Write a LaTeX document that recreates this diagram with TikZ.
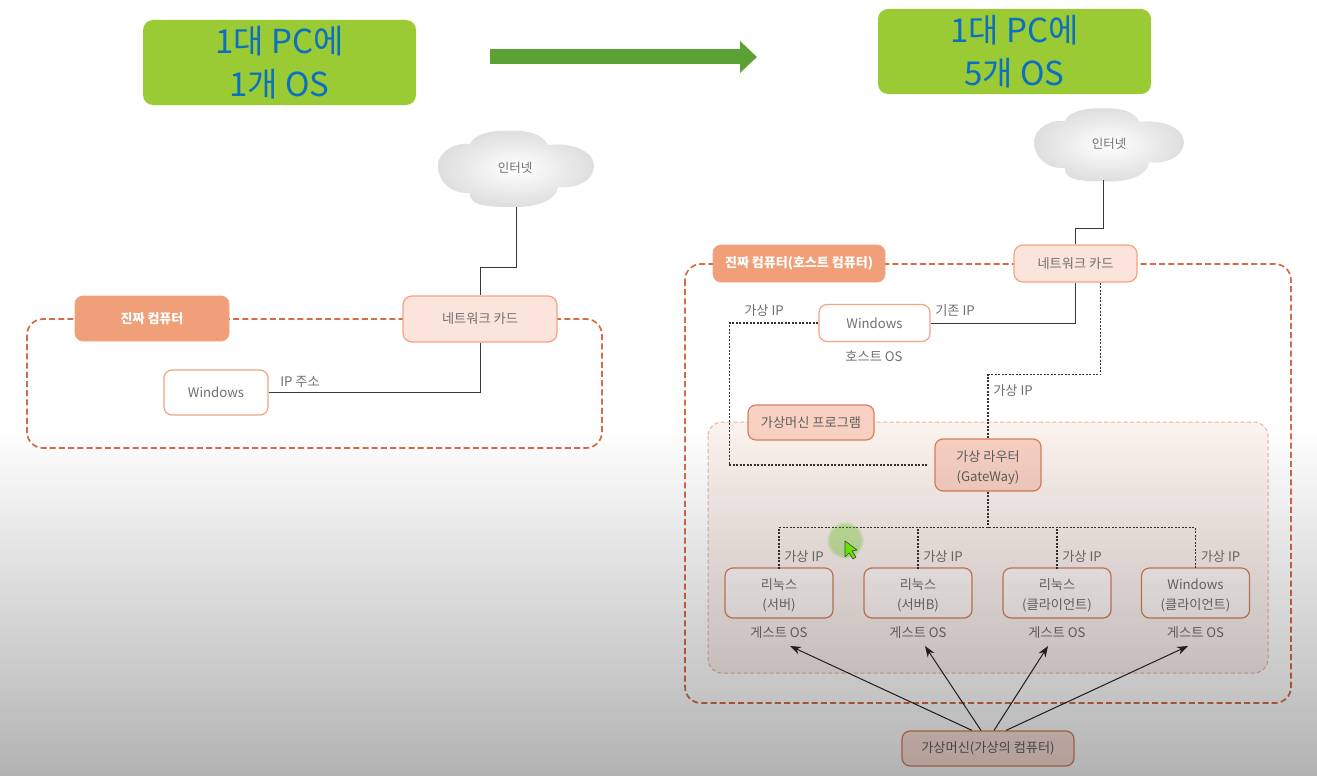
\documentclass[tikz,border=0pt]{standalone}
\usepackage{fontspec}
\setmainfont{Noto Sans CJK KR}
\usetikzlibrary{arrows.meta,fadings,calc}
\definecolor{lbl}{HTML}{707070}
\definecolor{titleblue}{HTML}{0B6FC2}
\definecolor{titlegreen}{HTML}{9ACB34}
\definecolor{arrowgreen}{HTML}{5CA135}
\definecolor{frameline}{HTML}{D56C47}
\definecolor{boxline}{HTML}{D9805F}
\definecolor{softline}{HTML}{F2A487}
\definecolor{realfill}{HTML}{F19F78}
\newcommand{\upstrut}{\rule{0pt}{16pt}}
\tikzset{
  every node/.style={font=\fontsize{13.2}{20}\selectfont, text=lbl, inner sep=0pt, align=center},
  titlebox/.style={fill=titlegreen, rounded corners=10pt, minimum width=273pt, minimum height=85pt, text=titleblue, font=\fontsize{33}{43}\selectfont},
  hostframe/.style={draw=frameline, line width=1.7pt, dash pattern=on 6pt off 3.2pt, rounded corners=16pt},
  vmarea/.style={draw=boxline!60, fill=boxline!11, line width=1pt, dash pattern=on 4pt off 2.5pt, rounded corners=14pt},
  realbox/.style={fill=realfill, draw=softline, rounded corners=8pt, line width=.8pt, text=white, font=\fontsize{13}{20}\selectfont\bfseries},
  nicbox/.style={fill=softline!30, draw=softline, rounded corners=9pt, line width=1.2pt},
  winbox/.style={fill=white, draw=softline, rounded corners=8pt, line width=1.2pt},
  progbox/.style={fill=softline!50, draw=boxline, rounded corners=8pt, line width=1.2pt, text=lbl!85!black},
  guestbox/.style={fill=softline!7, draw=boxline, rounded corners=8pt, line width=1.2pt, minimum width=108pt, minimum height=50pt},
  solidwire/.style={draw=black!78, line width=.9pt},
  dotwire/.style={draw=black!80, line width=1.2pt, dash pattern=on 2pt off 1.5pt},
  vmarrow/.style={draw=black!85, line width=1pt, -{Stealth[length=11pt,width=8pt]}},
  cloudfill/.style={inner color=white, outer color=black!13},
}
\newcommand{\cloudshape}[3]{%
  \path[cloudfill, shift={(#1,#2)}, scale=#3]
    (-78,-3) .. controls (-78,-18) and (-60,-27) .. (-46,-25)
    .. controls (-42,-36) and (-20,-39) .. (-8,-38)
    .. controls (10,-39) and (26,-36) .. (32,-24)
    .. controls (55,-27) and (78,-18) .. (78,-3)
    .. controls (78,12) and (60,20) .. (42,18)
    .. controls (40,32) and (20,38) .. (0,38)
    .. controls (-22,38) and (-48,38) .. (-46,24)
    .. controls (-68,25) and (-78,10) .. (-78,-3) -- cycle;}
\begin{document}
\begin{tikzpicture}[x=1pt,y=-1pt]
\useasboundingbox (0,0) rectangle (1317,776);
\fill[white] (0,0) rectangle (1317,776);

% titles and arrow
\node[titlebox] (t1) at (279.5,62.5) {1대 PC에\\1개 OS};
\node[titlebox] (t2) at (1014.5,51.5) {1대 PC에\\5개 OS};
\coordinate (arrowa) at (490,57);
\coordinate (arrowb) at (757,57);
\draw[arrowgreen, line width=15pt, -{Triangle[length=17pt,width=31pt]}] (arrowa) -- (arrowb);

% left side
\cloudshape{516}{169}{1}
\node (inet1) at (515,168) {\fontsize{12.5}{14}\selectfont 인터넷};
\coordinate (c1b) at (516,207);
\draw[hostframe] (27,319) rectangle (602,448);
\node[realbox, minimum width=154pt, minimum height=45pt] (real1) at (152,318.5) {진짜 컴퓨터};
\node[nicbox, minimum width=154pt, minimum height=46pt] (nic1) at (480,319) {네트워크 카드};
\node[winbox, minimum width=104pt, minimum height=45pt] (win1) at (216,392.5) {Windows};
\node (ip1) at (300,382) {IP 주소};
\draw[solidwire] (c1b) -- ++(0,60) -| (nic1.north);
\draw[solidwire] (win1.east) -| (nic1.south);

% right side
\cloudshape{1109}{145}{.96}
\node (inet2) at (1109,144) {\fontsize{12.5}{14}\selectfont 인터넷};
\coordinate (c2b) at (1103,180);
\draw[hostframe] (685,264) rectangle (1291,703);
\draw[vmarea] (708,422) rectangle (1268,673);
\node[realbox, minimum width=172pt, minimum height=37pt] (real2) at (799,263.5) {진짜 컴퓨터(호스트 컴퓨터)};
\node[nicbox, minimum width=123pt, minimum height=37pt] (nic2) at (1075.5,263.5) {네트워크 카드};
\node[winbox, minimum width=111pt, minimum height=37pt] (win2) at (874.5,323) {Windows};
\node (hostos) at (874,356) {호스트 OS};
\node (ipa) at (764,311) {가상 IP};
\node (ipb) at (955,311) {기존 IP};
\node (ipc) at (1013,391) {가상 IP};
\node[progbox, minimum width=126pt, minimum height=35pt] (prog) at (811,422.5) {가상머신 프로그램};
\node[progbox, minimum width=106pt, minimum height=52pt] (gw) at (988,465) {\upstrut 가상 라우터\\(GateWay)};
\node[guestbox] (g1) at (779,593) {\upstrut 리눅스\\(서버)};
\node[guestbox] (g2) at (918,593) {\upstrut 리눅스\\(서버B)};
\node[guestbox] (g3) at (1057,593) {\upstrut 리눅스\\(클라이언트)};
\node[guestbox] (g4) at (1195.5,593) {\upstrut Windows\\(클라이언트)};
\foreach \n/\x in {1/779,2/918,3/1057,4/1195.5}{
  \node (gos\n) at (\x,633) {게스트 OS};
  \node (gip\n) at (\x+25,557) {가상 IP};
}
\node[progbox, fill=softline!32, minimum width=172pt, minimum height=35pt] (vm) at (988,748.5) {가상머신(가상의 컴퓨터)};

\draw[solidwire] (c2b) -- ++(0,48) -| (nic2.north);
\draw[solidwire] (win2.east) -| (nic2.south);
\draw[dotwire] ([xshift=25pt]nic2.south) -- ++(0,92) -| (gw.north);
\draw[dotwire] (win2.west) -- ++(-89,0) |- ([xshift=-6pt]gw.west);
\draw[dotwire] (gw.south) -- ++(0,36) coordinate (bus);
\draw[dotwire] ([yshift=-2pt]g1.north) |- (bus) -| ([yshift=-2pt]g4.north);
\foreach \n in {2,3}{\draw[dotwire] ([yshift=-2pt]g\n.north) -- (g\n.north |- bus);}

\coordinate (tip1) at (790,646);
\coordinate (tip2) at (925,646);
\coordinate (tip3) at (1048,646);
\coordinate (tip4) at (1188,646);
\draw[vmarrow] ([xshift=-16pt]vm.north) -- (tip1);
\draw[vmarrow] ([xshift=-7pt]vm.north) -- (tip2);
\draw[vmarrow] ([xshift=6pt]vm.north) -- (tip3);
\draw[vmarrow] ([xshift=18pt]vm.north) -- (tip4);

% pointer with its highlight
\fill[green!55!yellow!80!black, path fading=circle with fuzzy edge 20 percent, opacity=.32] (845,540) circle (19);
\draw[black!70, fill=green!55!yellow, line width=.6pt, line join=round]
  (845,541) -- (845,557) -- (849,553) -- (853,559) -- (856,557) -- (852,551) -- (857,550) -- cycle;

% video dimming towards the bottom
\foreach \y in {426,428,...,774}{
  \pgfmathsetmacro{\dimval}{(\y-426)/350*0.30}
  \fill[black, opacity=\dimval] (0,\y) rectangle (1317,\y+2);
}
\end{tikzpicture}
\end{document}
